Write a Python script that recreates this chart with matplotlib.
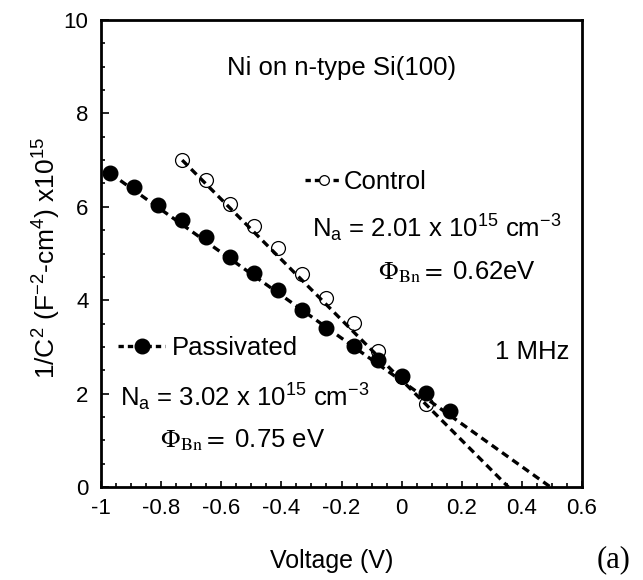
import matplotlib
matplotlib.use('Agg')
import matplotlib.pyplot as plt
from matplotlib.lines import Line2D
from matplotlib.ticker import MultipleLocator, FuncFormatter

plt.rcParams.update({
    'font.family': ['Liberation Sans', 'DejaVu Sans'],
    'mathtext.fontset': 'custom',
    'mathtext.rm': 'Liberation Sans',
    'mathtext.it': 'Liberation Sans:italic',
    'mathtext.bf': 'Liberation Sans:bold',
    'axes.unicode_minus': False,
})

# ---- data ----
ctrl_v = [-0.73, -0.65, -0.57, -0.49, -0.41, -0.33, -0.25, -0.16, -0.08, 0.0, 0.08]
ctrl_c = [7.00, 6.57, 6.07, 5.59, 5.12, 4.56, 4.04, 3.51, 2.92, 2.36, 1.78]
pass_v = [-0.97, -0.89, -0.81, -0.73, -0.65, -0.57, -0.49, -0.41, -0.33, -0.25,
          -0.16, -0.08, 0.0, 0.08, 0.16]
pass_c = [6.72, 6.42, 6.04, 5.72, 5.35, 4.93, 4.58, 4.22, 3.80, 3.40,
          3.02, 2.72, 2.37, 2.02, 1.62]
ctrl_fit_v = [-0.73, 0.355]
ctrl_fit_c = [7.00, 0.0]
pass_fit_v = [-0.97, 0.495]
pass_fit_c = [6.72, 0.0]

xticks = [-1, -0.8, -0.6, -0.4, -0.2, 0, 0.2, 0.4, 0.6]
yticks = [0, 2, 4, 6, 8, 10]

fig = plt.figure(figsize=(6.43, 5.8), dpi=100)
ax = fig.add_axes([101/643, 1 - 487/580, 481/643, 467/580])

lw = 2.4
dash = (2.3, 1.5)
ax.plot(ctrl_fit_v, ctrl_fit_c, color='black', lw=lw, ls=(0, dash), zorder=2)
ax.plot(pass_fit_v, pass_fit_c, color='black', lw=lw, ls=(0, dash), zorder=2)
ax.plot(ctrl_v, ctrl_c, ls='none', marker='o', ms=10, mfc='none', mec='black',
        mew=0.9, zorder=3)
ax.plot(pass_v, pass_c, ls='none', marker='o', ms=10.5, mfc='black', mec='black',
        zorder=4)

ax.set_xlim(-1, 0.6)
ax.set_ylim(0, 10)
ax.set_xticks(xticks)
ax.set_yticks(yticks)
ax.xaxis.set_minor_locator(MultipleLocator(0.05))
ax.yaxis.set_minor_locator(MultipleLocator(0.5))
ax.xaxis.set_major_formatter(FuncFormatter(lambda v, p: '%g' % round(v, 2)))
ax.tick_params(which='both', direction='in', top=False, right=False, width=1.2,
               labelsize=16)
ax.tick_params(axis='x', which='major', length=4, pad=8)
ax.tick_params(axis='x', which='minor', length=3)
ax.tick_params(axis='y', which='major', length=6, pad=9)
ax.tick_params(axis='y', which='minor', length=3)
for s in ax.spines.values():
    s.set_linewidth(2)

ax.set_xlabel('Voltage (V)', fontsize=18)
ax.xaxis.set_label_coords(0.48, -0.133)
ax.set_ylabel(r'1/C$^2$ (F$^{-2}$-cm$^4$) x10$^{15}$', fontsize=19)
ax.yaxis.set_label_coords(-0.08, 0.49)

fs = 18.5
# legends
h_ctrl = Line2D([], [], color='black', lw=lw, ls=(0, (1.6, 1.2)), marker='o', ms=7,
                mfc='white', mec='black', mew=0.9)
h_pass = Line2D([], [], color='black', lw=lw, ls=(0, (1.6, 1.2)), marker='o', ms=10.5,
                mfc='black', mec='black')
leg1 = ax.legend([h_ctrl], ['Control'], loc='center left',
                 bbox_to_anchor=(0.424, 0.653), frameon=False, fontsize=fs,
                 handlelength=1.45, handletextpad=0.05, borderpad=0, borderaxespad=0)
ax.add_artist(leg1)
ax.legend([h_pass], ['Passivated'], loc='center left',
          bbox_to_anchor=(0.035, 0.298), frameon=False, fontsize=fs,
          handlelength=1.85, handletextpad=0.27, borderpad=0, borderaxespad=0)

ax.text(0.5, 0.897, 'Ni on n-type Si(100)', transform=ax.transAxes,
        ha='center', va='center', fontsize=fs)
ax.text(0.439, 0.555, r'N$_{\mathrm{a}}$ = 2.01 x 10$^{15}$ cm$^{-3}$',
        transform=ax.transAxes, ha='left', va='center', fontsize=fs)
ax.text(0.575, 0.46, r'$\Phi_{\mathrm{Bn}} =$ 0.62eV', transform=ax.transAxes,
        ha='left', va='center', fontsize=fs, math_fontfamily='stix')
ax.text(0.82, 0.289, '1 MHz', transform=ax.transAxes, ha='left', va='center',
        fontsize=fs)
ax.text(0.04, 0.193, r'N$_{\mathrm{a}}$ = 3.02 x 10$^{15}$ cm$^{-3}$',
        transform=ax.transAxes, ha='left', va='center', fontsize=fs)
ax.text(0.123, 0.10, r'$\Phi_{\mathrm{Bn}} =$ 0.75 eV', transform=ax.transAxes,
        ha='left', va='center', fontsize=fs, math_fontfamily='stix')

fig.text(0.928, 1 - 560/580, '(a)', fontsize=22, family='Liberation Serif',
         ha='left', va='center')

fig.savefig('out.png', dpi=100)
